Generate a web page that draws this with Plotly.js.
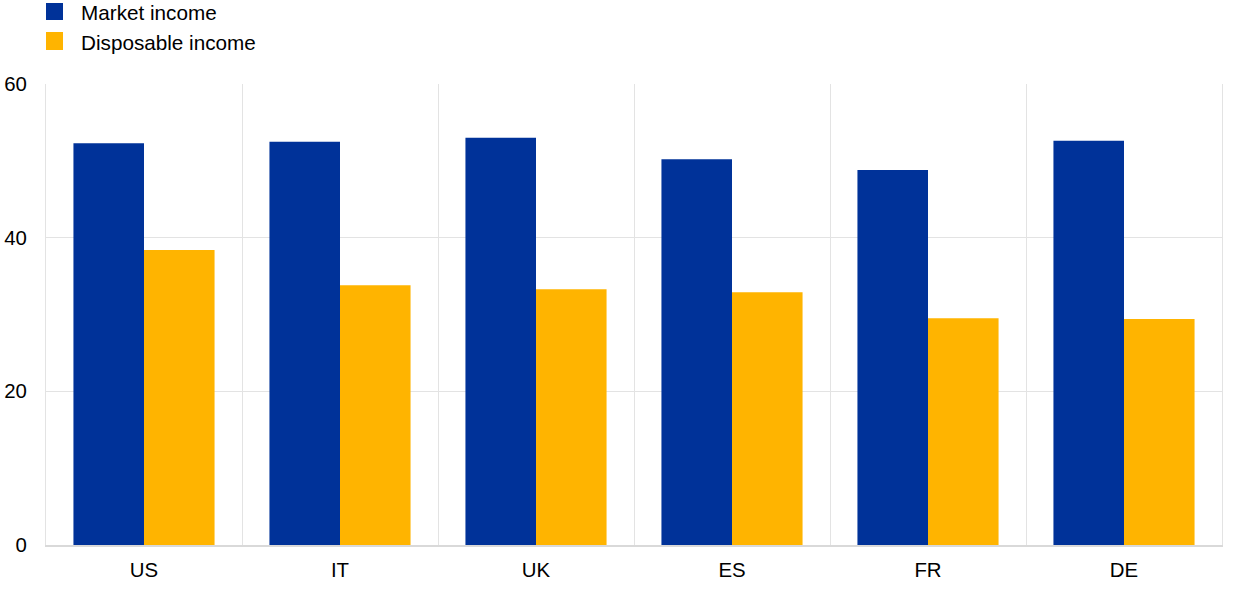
<!DOCTYPE html>
<html>
<head>
<meta charset="utf-8">
<script src="https://cdn.plot.ly/plotly-3.0.1.min.js"></script>
<style>html,body{margin:0;padding:0;background:#fff;}#chart{width:1240px;height:590px;}</style>
</head>
<body>
<div id="chart"></div>
<script>
const categories = ["US", "IT", "UK", "ES", "FR", "DE"];
const marketIncome = [52.3, 52.5, 53.0, 50.2, 48.8, 52.6];
const disposableIncome = [38.4, 33.8, 33.3, 32.9, 29.5, 29.4];
const seriesNames = ["Market income", "Disposable income"];
const yTicks = [0, 20, 40, 60];

const colors = ["#003299", "#FFB400"];
const fam = "Arial, 'Liberation Sans', sans-serif";
const font = {family: fam, size: 20.4, color: "#000"};
const legendFont = {family: fam, size: 20.7, color: "#000"};

const traces = [
  {type: "bar", x: categories, y: marketIncome, name: seriesNames[0], marker: {color: colors[0]}, hoverinfo: "x+y"},
  {type: "bar", x: categories, y: disposableIncome, name: seriesNames[1], marker: {color: colors[1]}, hoverinfo: "x+y"}
];

const W = 1176, H = 461, L = 46, T = 84;
function px(x) { return (x - L) / W; }
function py(y) { return (T + H - y) / H; }

const shapes = [], annotations = [];
const legendRows = [[3, 20, 12], [32, 50, 42]];
seriesNames.forEach((n, i) => {
  const r = legendRows[i];
  shapes.push({type: "rect", xref: "paper", yref: "paper", x0: px(46), x1: px(63), y0: py(r[1]), y1: py(r[0]), fillcolor: colors[i], line: {width: 0}});
  annotations.push({xref: "paper", yref: "paper", x: px(79), y: py(r[2]), xanchor: "left", yanchor: "middle", text: n, showarrow: false, font: legendFont});
});

const layout = {
  width: 1240, height: 590,
  margin: {l: L, r: 1240 - L - W, t: T, b: 590 - T - H, pad: 0},
  paper_bgcolor: "#fff", plot_bgcolor: "#fff",
  font: font,
  showlegend: false,
  barmode: "group", bargap: 0.28, bargroupgap: 0,
  xaxis: {
    type: "category", tickson: "boundaries", showgrid: true, gridcolor: "#e3e3e3", gridwidth: 1,
    ticks: "", showline: true, linecolor: "#d9d9d9", linewidth: 1.5, mirror: false,
    ticklabelstandoff: 6, tickfont: font, zeroline: false, fixedrange: true
  },
  yaxis: {
    range: [0, 60], tickvals: yTicks, ticktext: yTicks.map(String), showgrid: true, gridcolor: "#e3e3e3", gridwidth: 1,
    ticks: "", showline: true, linecolor: "#e3e3e3", linewidth: 1, mirror: true,
    ticklabelstandoff: 14, tickfont: font, zeroline: false, fixedrange: true
  },
  shapes: shapes,
  annotations: annotations
};

Plotly.newPlot("chart", traces, layout, {displayModeBar: false, staticPlot: true});
</script>
</body>
</html>
